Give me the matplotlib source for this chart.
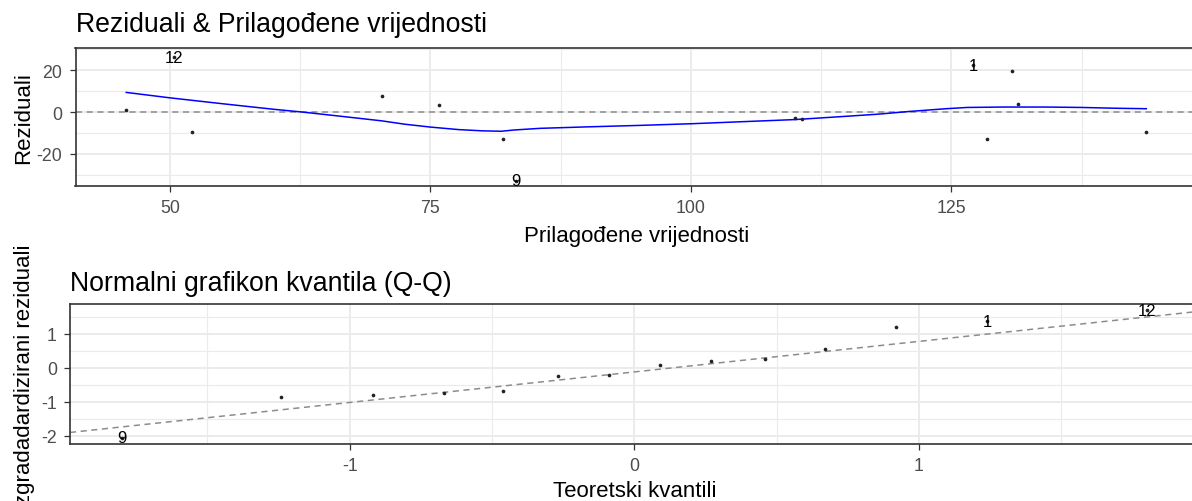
import matplotlib.pyplot as plt
from matplotlib.ticker import MultipleLocator
import numpy as np

plt.rcParams['font.family'] = ['Liberation Sans', 'DejaVu Sans']
plt.rcParams['axes.unicode_minus'] = False

# Reziduali vs prilagođene vrijednosti
fitted = [45.8, 50.4, 52.1, 70.3, 75.8, 82.0, 83.2, 110.0, 110.7, 127.1, 128.4, 130.8, 131.4, 143.7]
resid = [0.8, 26.3, -9.7, 7.6, 3.3, -13.0, -33.0, -3.0, -3.4, 22.5, -13.0, 19.8, 4.0, -9.7]
point_ids = ['', '12', '', '', '', '', '9', '', '', '1', '', '', '', '']

# loess krivulja
smooth_x = [45.8, 50, 55, 60, 62.7, 66, 70.3, 72.5, 75, 77.7, 80, 81.8, 83, 85.5, 90, 95,
            100, 105, 110, 115, 118, 121, 124.5, 126.5, 130, 134, 137.5, 141, 143.7]
smooth_y = [9.4, 6.8, 4.0, 1.3, 0.0, -1.8, -4.2, -5.8, -7.2, -8.4, -9.0, -9.2, -8.6, -7.8, -7.1, -6.4,
            -5.6, -4.6, -3.6, -2.0, -1.0, 0.3, 1.6, 2.2, 2.4, 2.4, 2.2, 1.8, 1.6]

# Q-Q: teoretski kvantili i standardizirani reziduali
theor_q = [-1.80, -1.24, -0.92, -0.67, -0.46, -0.27, -0.09, 0.09, 0.27, 0.46, 0.67, 0.92, 1.24, 1.80]
std_resid = [-2.07, -0.85, -0.80, -0.75, -0.675, -0.23, -0.21, 0.085, 0.21, 0.27, 0.555, 1.19, 1.37, 1.69]
qq_ids = ['9', '', '', '', '', '', '', '', '', '', '', '', '1', '12']

W, H = 1192, 502
fig = plt.figure(figsize=(W / 100, H / 100), dpi=100)


def px_axes(left, top, right, bottom):
    return fig.add_axes([left / W, 1 - bottom / H, (right - left) / W, (bottom - top) / H])


def style(ax):
    for s in ax.spines.values():
        s.set_color('#333333')
        s.set_linewidth(1.2)
    ax.grid(True, which='major', color='#EBEBEB', linewidth=1.4)
    ax.grid(True, which='minor', color='#EBEBEB', linewidth=0.8)
    ax.set_axisbelow(True)
    ax.tick_params(which='major', length=4, width=0.9, color='#333333',
                   labelsize=12.8, labelcolor='#4D4D4D', pad=5.5)
    ax.tick_params(which='minor', length=0)


# gornji graf
ax1 = px_axes(75.5, 48.5, 1198, 187)
style(ax1)
ax1.axhline(0, color='#8C8C8C', linestyle=(0, (4, 3)), linewidth=1.1, zorder=1)
ax1.plot(smooth_x, smooth_y, color='#0000FF', linewidth=1.1, zorder=2)
ax1.scatter(fitted, resid, s=7, color='#222222', linewidths=0, zorder=3)
for x, y, t in zip(fitted, resid, point_ids):
    if t:
        ax1.text(x, y, t, fontsize=12, ha='center', va='center', zorder=4)
ax1.set_xlim(40.93, 148.66)
ax1.set_ylim(-35.4, 30.9)
ax1.xaxis.set_major_locator(MultipleLocator(25))
ax1.xaxis.set_minor_locator(MultipleLocator(12.5))
ax1.yaxis.set_major_locator(MultipleLocator(20))
ax1.yaxis.set_minor_locator(MultipleLocator(10))
ax1.set_title('Reziduali & Prilagođene vrijednosti', loc='left', fontsize=19.2, pad=12)
ax1.set_xlabel('Prilagođene vrijednosti', fontsize=16, labelpad=6)
ax1.set_ylabel('Reziduali', fontsize=16)
ax1.yaxis.set_label_coords(-0.037, 0.5)

# donji graf (Q-Q)
ax2 = px_axes(70, 305, 1199, 445)
style(ax2)
q1, q3 = np.percentile(std_resid, [25, 75])
slope = (q3 - q1) / (2 * 0.6745)
icpt = q1 + slope * 0.6745
xl = np.array([-1.983, 1.984])
ax2.plot(xl, icpt + slope * xl, color='#8C8C8C', linestyle=(0, (4, 3)), linewidth=1.1, zorder=1)
ax2.scatter(theor_q, std_resid, s=7, color='#222222', linewidths=0, zorder=3)
for x, y, t in zip(theor_q, std_resid, qq_ids):
    if t:
        ax2.text(x, y, t, fontsize=12, ha='center', va='center', zorder=4)
ax2.set_xlim(-1.983, 1.984)
ax2.set_ylim(-2.25, 1.88)
ax2.xaxis.set_major_locator(MultipleLocator(1))
ax2.xaxis.set_minor_locator(MultipleLocator(0.5))
ax2.yaxis.set_major_locator(MultipleLocator(1))
ax2.yaxis.set_minor_locator(MultipleLocator(0.5))
ax2.set_title('Normalni grafikon kvantila (Q-Q)', loc='left', fontsize=19.2, pad=10)
ax2.set_xlabel('Teoretski kvantili', fontsize=16, labelpad=4)
ax2.set_ylabel('zgradadardizirani reziduali', fontsize=16)
ax2.yaxis.set_label_coords(-0.031, 0.5)

fig.savefig('out.png', dpi=100)
